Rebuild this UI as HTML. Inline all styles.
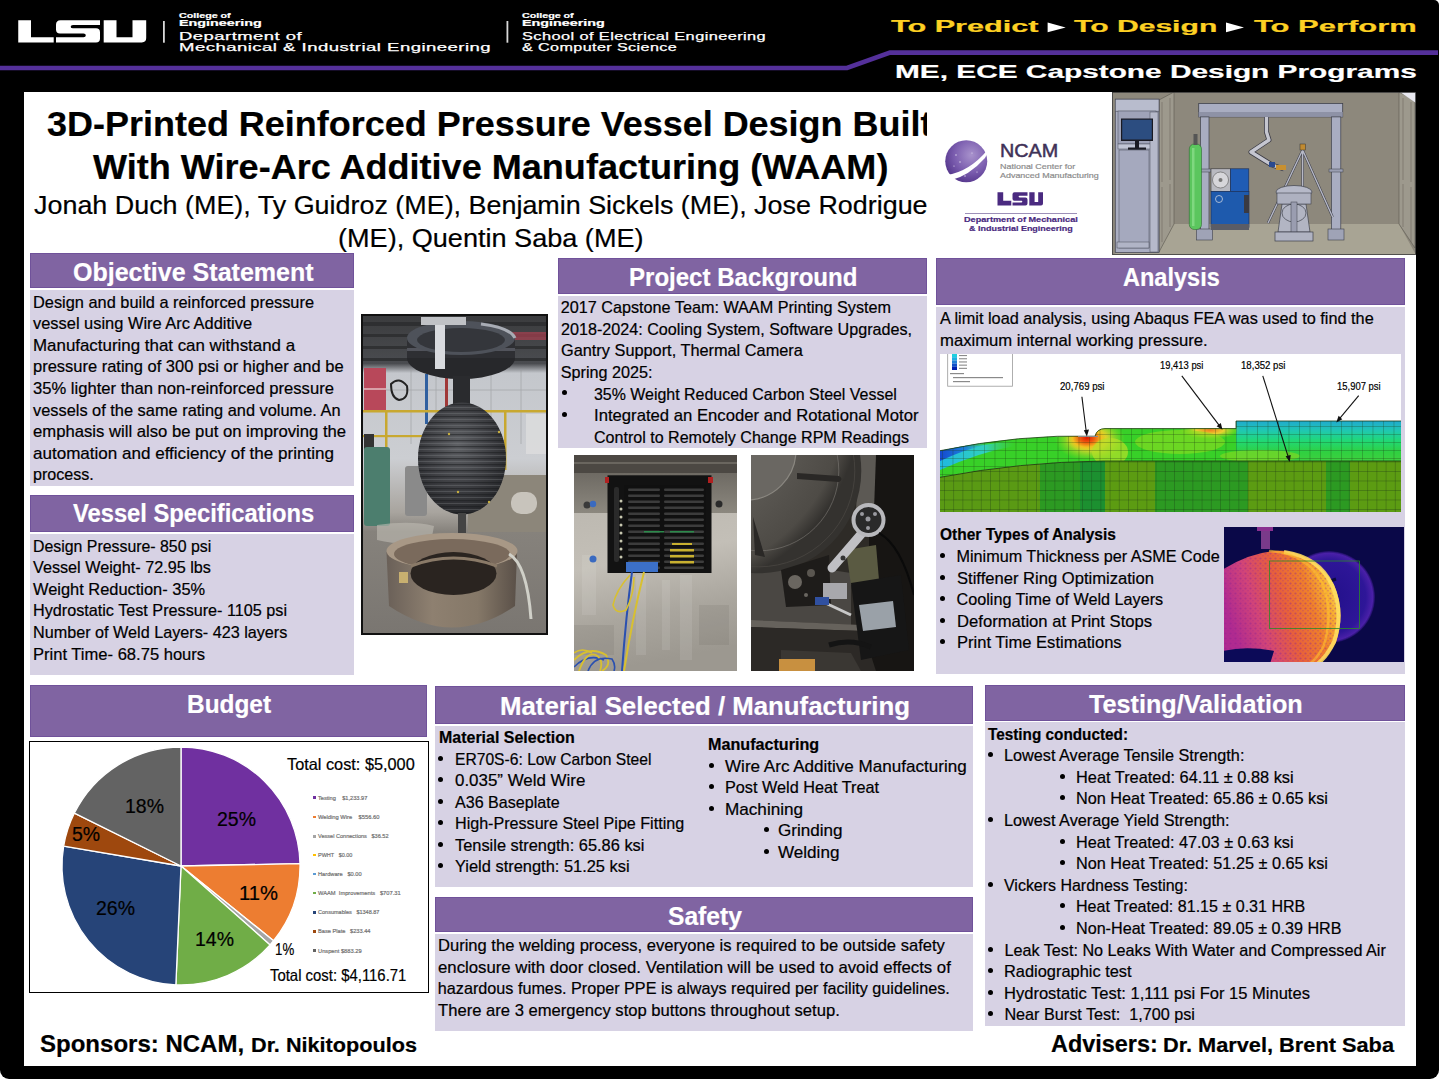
<!DOCTYPE html>
<html><head><meta charset="utf-8">
<style>
*{box-sizing:border-box;margin:0;padding:0}
html,body{width:1440px;height:1080px;overflow:hidden;background:#fff}
body{position:relative;font-family:"Liberation Sans",sans-serif;color:#000}
.a{position:absolute}
.frame{left:0;top:0;width:1439px;height:1079px;background:#000;border-radius:0 5px 9px 9px}
.white{left:24px;top:92px;width:1392px;height:974px;background:#fff}
.hd{position:absolute;background:#8064a2;border:1px solid #70529a}
.bd{position:absolute;background:#d7d2e4}
.t{position:absolute;white-space:nowrap;transform-origin:0 0;-webkit-text-stroke:0.2px currentColor}
.w{color:#fff}
svg{position:absolute;overflow:hidden}
</style></head>
<body>
<div class="a frame"></div>
<div class="a white"></div>

<svg style="left:0;top:0" width="1440" height="92">
<polyline points="0,68 847,68 890,52.6 1438,52.6" fill="none" stroke="#54309a" stroke-width="4.6" stroke-linejoin="miter"/>
</svg>
<svg style="left:0;top:0" width="1440" height="92">
<path fill="#fff" d="M18.25,20.25H31V37.2H53.7V42.4H18.25Z"/>
<path fill="#fff" d="M60.5,20.25H100V25H73Q70.7,25 70.7,26.65Q70.7,28.3 73,28.3H96Q100,28.3 100,32.3V38.4Q100,42.4 96,42.4H56V37.2H83.5Q85.8,37.2 85.8,35.35Q85.8,33.5 83.5,33.5H60Q56,33.5 56,29.5V24.75Q56,20.25 60.5,20.25Z"/>
<path fill="#fff" d="M103.7,20.25H116.5V37.2H132.5V20.25H146.2V38Q146.2,42.4 141.8,42.4H103.7Z"/>
<rect x="163" y="21" width="1.8" height="21.7" fill="#d8d8d8"/>
<rect x="506.5" y="21" width="1.8" height="21.7" fill="#d8d8d8"/>
<path fill="#fff" d="M1047.6,22.6L1065.7,27.45L1047.6,32.3Z"/>
<path fill="#fff" d="M1226,22.6L1244,27.45L1226,32.3Z"/>
</svg>


<!-- section boxes -->
<div class="hd" style="left:30px;top:253px;width:324px;height:35px"></div>
<div class="bd" style="left:30px;top:290px;width:324px;height:196px"></div>
<div class="hd" style="left:30px;top:495px;width:324px;height:37px"></div>
<div class="bd" style="left:30px;top:534px;width:324px;height:141px"></div>

<div class="hd" style="left:558px;top:258px;width:369px;height:36px"></div>
<div class="bd" style="left:558px;top:295.5px;width:369px;height:152.5px"></div>

<div class="hd" style="left:936px;top:258px;width:469px;height:47px"></div>
<div class="bd" style="left:936px;top:307px;width:469px;height:366.5px"></div>

<div class="hd" style="left:30px;top:685px;width:397px;height:52px"></div>
<div class="a" style="left:29px;top:741px;width:400px;height:252px;border:1.5px solid #000;background:#fff"></div>

<div class="hd" style="left:435px;top:686px;width:538px;height:38px"></div>
<div class="bd" style="left:435px;top:725.5px;width:538px;height:161.5px"></div>
<div class="hd" style="left:435px;top:897px;width:538px;height:35px"></div>
<div class="bd" style="left:435px;top:933.5px;width:538px;height:97.5px"></div>

<div class="hd" style="left:985px;top:685px;width:420px;height:35.5px"></div>
<div class="bd" style="left:985px;top:722px;width:420px;height:303.5px"></div>

<svg style="left:361px;top:314px" width="187" height="321" viewBox="0 0 187 321">
<defs>
<linearGradient id="vbg" x1="0" y1="0" x2="0" y2="1">
<stop offset="0" stop-color="#3b3c3e"/><stop offset="0.15" stop-color="#4a4c50"/><stop offset="0.18" stop-color="#c4c7cc"/><stop offset="0.45" stop-color="#ccced2"/><stop offset="0.62" stop-color="#a8a49e"/><stop offset="0.68" stop-color="#86827c"/><stop offset="1" stop-color="#7a7671"/>
</linearGradient>
<radialGradient id="vves" cx="0.45" cy="0.38" r="0.65"><stop offset="0" stop-color="#5e6064"/><stop offset="0.6" stop-color="#3c3d41"/><stop offset="1" stop-color="#252629"/></radialGradient>
<pattern id="vrid" width="10" height="6" patternUnits="userSpaceOnUse"><rect width="10" height="1.3" fill="#18191c" opacity="0.5"/><rect y="3" width="10" height="1" fill="#8a8c90" opacity="0.3"/></pattern>
<linearGradient id="vring" x1="0" y1="0" x2="1" y2="0"><stop offset="0" stop-color="#6a6058"/><stop offset="0.35" stop-color="#8e8070"/><stop offset="0.7" stop-color="#857868"/><stop offset="1" stop-color="#5a5048"/></linearGradient>
</defs>
<rect width="187" height="321" fill="#111"/>
<rect x="2" y="2" width="183" height="317" fill="url(#vbg)"/>
<g fill="#2b2c2e" opacity="0.8"><rect x="2" y="8" width="183" height="4"/><rect x="2" y="20" width="183" height="3"/><rect x="2" y="32" width="183" height="3"/><rect x="2" y="44" width="183" height="3"/></g>
<rect x="150" y="18" width="35" height="8" fill="#a84050" opacity="0.7"/>
<rect x="3" y="54" width="22" height="42" fill="#b8485a"/>
<rect x="3" y="74" width="22" height="2" fill="#d8a0a8"/>
<g stroke="#9a9ca0" stroke-width="0.8" opacity="0.7"><path d="M25,76 H185 M50,55 V130 M75,55 V130 M130,55 V130 M160,55 V130"/></g>
<rect x="64" y="60" width="3" height="50" fill="#3060a0"/>
<rect x="84" y="58" width="3" height="40" fill="#a03838"/>
<path d="M30,70 Q38,62 46,72 Q48,85 38,86 Q30,84 30,70Z" fill="none" stroke="#222" stroke-width="2"/>
<rect x="2" y="96" width="183" height="2.5" fill="#c8a830"/>
<rect x="2" y="121" width="120" height="2.2" fill="#c8a830"/>
<rect x="24" y="96" width="2.5" height="60" fill="#c8a830"/>
<rect x="143" y="96" width="2.5" height="60" fill="#c8a830"/>
<rect x="3" y="120" width="10" height="16" fill="#333"/>
<rect x="3" y="133" width="26" height="79" rx="3" fill="#4c7e6e"/>
<rect x="44" y="152" width="22" height="50" rx="3" fill="#8a8a8a"/>
<rect x="107" y="161" width="78" height="57" fill="#8c867a"/>
<rect x="150" y="178" width="26" height="22" rx="10" fill="#c8c4bc"/>
<rect x="165" y="100" width="20" height="40" fill="#e0e0e0" opacity="0.7"/>
<path d="M16,211 Q50,206 73,212 L70,228 Q40,232 16,226Z" fill="#c0bcb4" opacity="0.6"/>
<ellipse cx="100" cy="44" rx="54" ry="21" fill="#27282b"/>
<rect x="46" y="24" width="108" height="20" fill="#2e2f33"/>
<rect x="46" y="34" width="108" height="3" fill="#6a6e78" opacity="0.6"/>
<ellipse cx="100" cy="24" rx="54" ry="17" fill="#4e525a"/>
<ellipse cx="100" cy="26" rx="44" ry="12" fill="#34363b"/>
<path d="M120,10 Q150,14 154,24" stroke="#a8acb4" stroke-width="3" fill="none"/>
<rect x="74" y="3" width="10" height="52" fill="#d8dade"/>
<rect x="60" y="3" width="45" height="8" fill="#c0c2c6"/>
<rect x="92" y="62" width="17" height="32" fill="#2a2b2e"/>
<ellipse cx="101" cy="144.5" rx="44" ry="56" fill="url(#vves)"/>
<ellipse cx="101" cy="144.5" rx="44" ry="56" fill="url(#vrid)"/>
<g fill="#c8b040"><circle cx="88" cy="120" r="1.2"/><circle cx="138" cy="118" r="1.2"/><circle cx="97" cy="178" r="1.2"/><circle cx="128" cy="188" r="1.2"/></g>
<rect x="97" y="199" width="8" height="20" fill="#444"/>
<path d="M25.5,238 L28,292 Q92,335 154,292 L156,238Z" fill="url(#vring)"/>
<ellipse cx="91" cy="237" rx="65.5" ry="18" fill="#a89886"/>
<ellipse cx="91" cy="240" rx="58" ry="15" fill="#7a6a5c"/>
<ellipse cx="92.5" cy="259.5" rx="43" ry="21.5" fill="#2a2420"/>
<path d="M50,252 Q92,236 136,252" stroke="#8a7a68" stroke-width="3" fill="none"/>
<rect x="38" y="258" width="9" height="11" fill="#c8b070"/>
<path d="M148,240 Q166,250 170,305" stroke="#d0d0c8" stroke-width="3" fill="none"/>
</svg>

<svg style="left:574px;top:455px" width="163" height="216" viewBox="0 0 163 216">
<defs>
<linearGradient id="p1a" x1="0" y1="0" x2="0" y2="1"><stop offset="0" stop-color="#6e6a63"/><stop offset="1" stop-color="#8c887f"/></linearGradient>
<linearGradient id="p1b" x1="0" y1="0" x2="0.2" y2="1"><stop offset="0" stop-color="#bdb9b1"/><stop offset="0.35" stop-color="#c3bfb7"/><stop offset="0.7" stop-color="#aaa69e"/><stop offset="1" stop-color="#9c9890"/></linearGradient>
<pattern id="p1s" width="163" height="6" patternUnits="userSpaceOnUse" y="2"><rect x="0" y="0" width="163" height="6" fill="#101010"/><rect x="54" y="1.5" width="32" height="2.6" rx="1.3" fill="#3c3c3c"/><rect x="90" y="1.5" width="40" height="2.6" rx="1.3" fill="#3c3c3c"/></pattern>
</defs>
<rect width="163" height="18" fill="#4c4843"/>
<rect y="7" width="163" height="2" fill="#6a665f"/>
<rect y="18" width="163" height="40" fill="url(#p1a)"/>
<rect y="58" width="163" height="158" fill="url(#p1b)"/>
<g fill="#fff" opacity="0.09"><rect x="62" y="120" width="10" height="80"/><rect x="88" y="125" width="8" height="70"/><rect x="106" y="120" width="12" height="85"/><rect x="8" y="100" width="14" height="60"/></g>
<g fill="#5a5650" opacity="0.12"><rect x="125" y="150" width="30" height="40"/><rect x="0" y="170" width="40" height="30"/></g>
<circle cx="13" cy="50" r="3.5" fill="#3a3a3a"/><circle cx="19" cy="49" r="3.2" fill="#3a6ac0"/>
<circle cx="19" cy="104" r="3.5" fill="#3a6ac0"/>
<circle cx="145" cy="49" r="3.5" fill="#2a2a2a"/>
<rect x="33.5" y="20.3" width="104" height="97.7" fill="#121212"/>
<rect x="31" y="22" width="4" height="6" fill="#b02020"/><rect x="134" y="22" width="5" height="6" fill="#b02020"/>
<rect x="50" y="30" width="82" height="84" fill="url(#p1s)"/>
<rect x="40" y="32" width="5" height="75" rx="2" fill="#2a2a2a"/>
<g fill="#c8c8b0"><circle cx="47" cy="46" r="1.5"/><circle cx="47" cy="54" r="1.5"/><circle cx="47" cy="62" r="1.5"/><circle cx="47" cy="70" r="1.5"/><circle cx="47" cy="78" r="1.5"/><circle cx="47" cy="86" r="1.5"/><circle cx="47" cy="94" r="1.5"/><circle cx="47" cy="102" r="1.5"/></g>
<rect x="96" y="94" width="24" height="2.5" fill="#c8b030"/><rect x="96" y="100" width="24" height="2.5" fill="#c8b030"/><rect x="96" y="106" width="24" height="2.5" fill="#c8b030"/><rect x="98" y="88" width="20" height="2" fill="#c8b030"/>
<rect x="70" y="76" width="20" height="1.5" fill="#2a8a4a"/><rect x="96" y="76" width="24" height="1.5" fill="#2a8a4a"/>
<rect x="52" y="107" width="32" height="10" fill="#3c70c8"/>
<path d="M58,117 Q52,160 48,216" stroke="#2a50b0" stroke-width="2" fill="none"/>
<path d="M70,117 Q58,165 50,216" stroke="#d8c030" stroke-width="2" fill="none"/>
<path d="M56,120 Q42,135 39,150 Q42,160 52,155 Q60,140 60,122" stroke="#d8c030" stroke-width="1.6" fill="none"/>
<path d="M0,205 Q15,190 32,200 Q38,210 28,216" stroke="#d8c030" stroke-width="1.8" fill="none"/>
<path d="M0,212 Q14,198 30,205" stroke="#2a50b0" stroke-width="1.6" fill="none"/>
<path d="M5,216 Q12,196 22,200 Q30,205 26,216" stroke="#d8c030" stroke-width="1.8" fill="none"/>
<path d="M14,216 Q20,200 38,204 Q42,210 40,216" stroke="#2a50b0" stroke-width="1.6" fill="none"/>
<path d="M0,198 Q8,192 18,198" stroke="#d8c030" stroke-width="1.5" fill="none"/>
</svg>

<svg style="left:751.4px;top:455px" width="163" height="216" viewBox="0 0 163 216">
<defs>
<radialGradient id="p2d" cx="0.05" cy="0.15" r="0.95"><stop offset="0" stop-color="#66635e"/><stop offset="0.6" stop-color="#5e5b56"/><stop offset="0.92" stop-color="#4e4b46"/><stop offset="1" stop-color="#34322f"/></radialGradient>
</defs>
<rect width="163" height="216" fill="#2e2b27"/>
<rect x="118" y="0" width="45" height="216" fill="#171513"/>
<path d="M108,0 L125,0 L123,55 L104,75Z" fill="#5c5954"/>
<path d="M0,118 L60,112 L100,118 L100,170 L0,165Z" fill="#4a4743"/>
<path d="M0,165 L110,170 L112,176 L0,172Z" fill="#66625c"/>
<path d="M0,172 L112,176 L125,216 L0,216Z" fill="#2c2926"/>
<path d="M30,195 L100,198 L110,216 L30,216Z" fill="#3a3733"/>
<rect x="28" y="204" width="36" height="12" fill="#c89040"/>
<circle cx="7.8" cy="15.8" r="102.5" fill="url(#p2d)"/>
<circle cx="-5" cy="-5" r="50" fill="#6a6762" stroke="#8a8780" stroke-width="1.2"/>
<circle cx="7.8" cy="15.8" r="80" fill="none" stroke="#7e7b75" stroke-width="0.6"/>
<circle cx="7.8" cy="15.8" r="96" fill="none" stroke="#45423e" stroke-width="1"/>
<path d="M46,18 L88,21 Q93,24 88,27 L46,24Z" fill="#2a2826"/>
<path d="M2,62 L14,102 L4,100Z" fill="#2a2826"/>
<path d="M30,115 L78,100 L80,150 L35,152Z" fill="#1e1c1a"/>
<circle cx="44" cy="127" r="7" fill="#6a6660"/><circle cx="60" cy="118" r="4" fill="#5a5650"/><circle cx="55" cy="140" r="2" fill="#6a6660"/>
<path d="M95,95 L125,90 L128,125 L100,130Z" fill="#5a5a42"/>
<path d="M112,77 L81,113" stroke="#c0c0c4" stroke-width="9" stroke-linecap="round"/>
<circle cx="92" cy="103" r="2.5" fill="#333"/>
<circle cx="117.5" cy="65" r="15" fill="#2a2a2a" stroke="#b8b8bc" stroke-width="4"/>
<g fill="#9a9aa0"><circle cx="111" cy="59" r="2"/><circle cx="124" cy="59" r="2"/><circle cx="117" cy="73" r="2"/><circle cx="117" cy="64" r="2.5"/></g>
<path d="M128,78 Q150,90 163,140" stroke="#0a0a0a" stroke-width="2" fill="none"/>
<rect x="72" y="128" width="24" height="16" fill="#a8a8ac"/>
<path d="M68,145 L100,160" stroke="#c8c8c8" stroke-width="3"/>
<rect x="64" y="142" width="14" height="8" fill="#3050a0"/>
<path d="M100,128 L150,120 L158,195 L110,205Z" fill="#161616"/>
<path d="M108,150 L142,146 L145,172 L112,176Z" fill="#a8b0b8" opacity="0.9"/>
<path d="M78,190 Q100,183 120,192" stroke="#141414" stroke-width="5" fill="none"/>
</svg>

<svg style="left:940px;top:354px" width="461" height="158" viewBox="0 0 461 158">
<defs>
<clipPath id="fup"><path d="M0,96.7 Q80,80 155,82.2 Q157,74.6 165,74.6 L296,74.6 L296,67 L461,67 L461,108 L163,107 Q80,108 0,123.3 Z"/></clipPath>
<clipPath id="flo"><path d="M0,123.3 Q80,108 163,107 L461,107 L461,158 L0,158 Z"/></clipPath>
<pattern id="g1" width="10.5" height="8" patternUnits="userSpaceOnUse" x="2" y="0"><path d="M0,0V8M0,0H10.5" stroke="#1a3a10" stroke-width="0.55" fill="none"/></pattern>
<pattern id="g2" width="9.2" height="9.5" patternUnits="userSpaceOnUse" x="4" y="3"><path d="M0,0V9.5M0,0H9.2" stroke="#163012" stroke-width="0.55" fill="none"/></pattern>
<radialGradient id="hot" cx="0.5" cy="0.5" r="0.5"><stop offset="0" stop-color="#e01800"/><stop offset="0.35" stop-color="#f06010"/><stop offset="0.65" stop-color="#f0c020"/><stop offset="1" stop-color="#b8e020" stop-opacity="0"/></radialGradient>
<radialGradient id="warm" cx="0.5" cy="0.5" r="0.5"><stop offset="0" stop-color="#f08020"/><stop offset="0.45" stop-color="#e8d030"/><stop offset="1" stop-color="#a0e020" stop-opacity="0"/></radialGradient>
<linearGradient id="blu" x1="0" y1="0" x2="1" y2="0.3"><stop offset="0" stop-color="#1040d0"/><stop offset="0.12" stop-color="#20a0e0"/><stop offset="0.22" stop-color="#30d0c0"/><stop offset="0.35" stop-color="#40d060" stop-opacity="0"/></linearGradient>
<linearGradient id="teal" x1="0" y1="0" x2="0" y2="1"><stop offset="0" stop-color="#1a70d0"/><stop offset="0.14" stop-color="#20a8d0"/><stop offset="0.35" stop-color="#20c8b0"/><stop offset="0.55" stop-color="#20d878"/><stop offset="0.8" stop-color="#30d040"/><stop offset="1" stop-color="#40d040"/></linearGradient>
</defs>
<rect width="461" height="158" fill="#fff"/>
<g clip-path="url(#fup)">
<rect width="461" height="158" fill="#38d028"/>
<linearGradient id="bl2" x1="0" y1="0" x2="1" y2="0"><stop offset="0" stop-color="#1448d0"/><stop offset="0.5" stop-color="#1c80d8"/><stop offset="1" stop-color="#30c0d0" stop-opacity="0"/></linearGradient>
<linearGradient id="cy2" x1="0" y1="0" x2="1" y2="0"><stop offset="0" stop-color="#20b8e0"/><stop offset="0.6" stop-color="#30d0c0"/><stop offset="1" stop-color="#40d060" stop-opacity="0"/></linearGradient>
<path d="M0,100 Q40,90 75,87 L75,92 Q40,98 0,116 Z" fill="url(#cy2)"/>
<path d="M0,96 Q25,90 50,87 L50,90 Q25,95 0,107 Z" fill="url(#bl2)"/>
<rect x="296" y="60" width="165" height="48" fill="url(#teal)"/>
<ellipse cx="150" cy="85" rx="35" ry="22" fill="url(#warm)"/>
<ellipse cx="147" cy="84" rx="22" ry="14" fill="url(#hot)"/>
<ellipse cx="170" cy="98" rx="18" ry="14" fill="#b8e028" opacity="0.7"/>
<ellipse cx="270" cy="76" rx="30" ry="9" fill="url(#warm)"/>
<ellipse cx="240" cy="88" rx="45" ry="12" fill="#90dc20" opacity="0.6"/>
<ellipse cx="320" cy="102" rx="40" ry="6" fill="#8ad820" opacity="0.6"/>
<rect width="461" height="158" fill="url(#g1)"/>
</g>
<g clip-path="url(#flo)">
<rect width="461" height="158" fill="#3e9a22"/>
<rect x="0" y="100" width="100" height="60" fill="#5a9a14"/>
<rect x="100" y="100" width="40" height="60" fill="#2c9a22"/>
<rect x="140" y="100" width="25" height="60" fill="#1c9030"/>
<rect x="165" y="100" width="50" height="60" fill="#5c9c12"/>
<rect x="215" y="100" width="93" height="60" fill="#2c9a22"/>
<rect x="308" y="100" width="78" height="60" fill="#5c9c12"/>
<rect x="386" y="100" width="24" height="60" fill="#2c9a22"/>
<rect x="410" y="100" width="51" height="60" fill="#5c9c12"/>
<rect width="461" height="158" fill="url(#g2)"/>
</g>
<path d="M0,96.7 Q80,80 155,82.2 Q157,74.6 165,74.6 L296,74.6 L296,67 L461,67" fill="none" stroke="#1a3a10" stroke-width="0.8"/>
<path d="M0,123.3 Q80,108 163,107 L461,107" fill="none" stroke="#1a3a10" stroke-width="0.8"/>
<rect x="7.7" y="-1" width="64.7" height="33.2" fill="#fff" stroke="#9a9a9a" stroke-width="0.8"/>
<rect x="12" y="0" width="5" height="3.2" fill="#20d0e0"/><rect x="12" y="3.2" width="5" height="3.2" fill="#20b0e0"/><rect x="12" y="6.4" width="5" height="3.2" fill="#2080d8"/><rect x="12" y="9.6" width="5" height="3.2" fill="#1050c8"/><rect x="12" y="12.8" width="5" height="3.2" fill="#0020b0"/>
<g fill="#8a8a8a"><rect x="19" y="1" width="8" height="1.1"/><rect x="19" y="4.2" width="8" height="1.1"/><rect x="19" y="7.4" width="8" height="1.1"/><rect x="19" y="10.6" width="8" height="1.1"/><rect x="19" y="13.8" width="8" height="1.1"/>
<rect x="10" y="19" width="14" height="1.2"/><rect x="13" y="23" width="50" height="1.2"/><rect x="13" y="27" width="17" height="1.2"/><rect x="138" y="82" width="20" height="1"/></g>
<g stroke="#111" stroke-width="1.1" fill="none">
<path d="M141.9,42.7L146.5,79.8"/>
<path d="M241.8,21.9L280.9,73.6"/>
<path d="M322.8,21.9L349,105.3"/>
<path d="M418.7,41.6L398.3,66.1"/>
</g>
<g fill="#111">
<path d="M146.9,82.5L143.8,76.2L149,75.6Z"/>
<path d="M282.5,75.8L276.6,72.2L280.8,69.0Z"/>
<path d="M349.8,108L345.6,102.3L350.7,100.9Z"/>
<path d="M396.3,68.4L398.6,61.8L402.3,65.3Z"/>
</g>
</svg>

<svg style="left:1223.5px;top:527px" width="180.5" height="135" viewBox="0 0 180.5 135">
<defs>
<radialGradient id="thb" cx="0.5" cy="0.5" r="0.5"><stop offset="0" stop-color="#22108a"/><stop offset="0.8" stop-color="#2e1698"/><stop offset="0.95" stop-color="#4a20a8"/><stop offset="1" stop-color="#1a0c60"/></radialGradient>
<linearGradient id="tho" x1="0" y1="0.3" x2="1" y2="0"><stop offset="0" stop-color="#b02a90"/><stop offset="0.22" stop-color="#d24478"/><stop offset="0.45" stop-color="#e8603a"/><stop offset="0.66" stop-color="#f0802a"/><stop offset="0.8" stop-color="#f8b030"/><stop offset="0.9" stop-color="#ffe060"/><stop offset="1" stop-color="#f08020"/></linearGradient>
<pattern id="thp" width="5" height="5" patternUnits="userSpaceOnUse"><circle cx="1.5" cy="1.5" r="1.1" fill="#8a2090" opacity="0.4"/><circle cx="4" cy="3.8" r="0.8" fill="#9a2890" opacity="0.35"/></pattern>
<clipPath id="thc"><rect width="181" height="135"/></clipPath>
</defs>
<rect width="181" height="135" fill="#0a0848"/>
<circle cx="105" cy="70" r="46" fill="url(#thb)"/>
<path d="M90,60 L112,52" stroke="#0c0a40" stroke-width="3"/>
<g clip-path="url(#thc)">
<path d="M-5,45 Q30,22 62,24 Q95,30 110,58 Q122,85 112,115 Q100,138 85,140 L-5,140 Z" fill="url(#tho)"/>
<path d="M-5,45 Q30,22 62,24 Q95,30 110,58 Q122,85 112,115 Q100,138 85,140 L-5,140 Z" fill="url(#thp)"/>
<path d="M60,25 Q95,30 108,58 Q120,86 110,115 Q100,135 88,140" fill="none" stroke="#ffe060" stroke-width="4" opacity="0.85"/>
<path d="M45,24 Q82,26 98,56 Q110,84 100,118 Q92,135 80,140" fill="none" stroke="#ffc030" stroke-width="2.5" opacity="0.6"/>
<path d="M-5,125 Q20,118 50,124 L45,140 L-5,140Z" fill="#0c0a58"/>
</g>
<rect x="37" y="0" width="9" height="22" fill="#7a3a8a"/><rect x="33" y="0" width="16" height="4" fill="#8a3090"/>
<rect x="45.5" y="34" width="90" height="67.5" fill="none" stroke="#2a8a2a" stroke-width="0.8"/>
</svg>

<svg style="left:0;top:0" width="440" height="1000">
<path d="M181,866L181.00,747.00A119,119 0 0 1 299.98,863.60Z" fill="#7030a0" stroke="#fff" stroke-width="1.3" stroke-linejoin="round"/>
<path d="M181,866L299.98,863.60A119,119 0 0 1 273.58,940.76Z" fill="#ed7d31" stroke="#fff" stroke-width="1.3" stroke-linejoin="round"/>
<path d="M181,866L273.58,940.76A119,119 0 0 1 270.06,944.93Z" fill="#a5a5a5" stroke="#fff" stroke-width="1.3" stroke-linejoin="round"/>
<path d="M181,866L270.06,944.93A119,119 0 0 1 175.86,984.89Z" fill="#70ad47" stroke="#fff" stroke-width="1.3" stroke-linejoin="round"/>
<path d="M181,866L175.86,984.89A119,119 0 0 1 63.66,846.16Z" fill="#264478" stroke="#fff" stroke-width="1.3" stroke-linejoin="round"/>
<path d="M181,866L63.66,846.16A119,119 0 0 1 74.41,813.08Z" fill="#9e480e" stroke="#fff" stroke-width="1.3" stroke-linejoin="round"/>
<path d="M181,866L74.41,813.08A119,119 0 0 1 181.00,747.00Z" fill="#636363" stroke="#fff" stroke-width="1.3" stroke-linejoin="round"/>
</svg>
<div class="a" style="left:313.4px;top:796.4px;width:2.8px;height:2.8px;background:#7030a0"></div>
<div class="a" style="left:313.4px;top:815.6px;width:2.8px;height:2.8px;background:#ed7d31"></div>
<div class="a" style="left:313.4px;top:834.9px;width:2.8px;height:2.8px;background:#a5a5a5"></div>
<div class="a" style="left:313.4px;top:853.7px;width:2.8px;height:2.8px;background:#ffc000"></div>
<div class="a" style="left:313.4px;top:872.7px;width:2.8px;height:2.8px;background:#5b9bd5"></div>
<div class="a" style="left:313.4px;top:891.7px;width:2.8px;height:2.8px;background:#70ad47"></div>
<div class="a" style="left:313.4px;top:910.8px;width:2.8px;height:2.8px;background:#264478"></div>
<div class="a" style="left:313.4px;top:930.0px;width:2.8px;height:2.8px;background:#9e480e"></div>
<div class="a" style="left:313.4px;top:949.3px;width:2.8px;height:2.8px;background:#636363"></div>

<div class="t" id="t0" style="left:179.00px;top:13.24px;font-size:6.8px;line-height:6.8px;font-weight:bold;color:#fff;transform:scaleX(1.5728);">College of</div>
<div class="t" id="t1" style="left:179.00px;top:20.36px;font-size:8.2px;line-height:8.2px;font-weight:bold;color:#fff;transform:scaleX(1.7505);">Engineering</div>
<div class="t" id="t2" style="left:179.00px;top:31.17px;font-size:11.5px;line-height:11.5px;color:#fff;transform:scaleX(1.6039);letter-spacing:0.3px;-webkit-text-stroke:0.25px #fff;">Department of</div>
<div class="t" id="t3" style="left:179.00px;top:41.77px;font-size:11.5px;line-height:11.5px;color:#fff;transform:scaleX(1.6093);letter-spacing:0.3px;-webkit-text-stroke:0.25px #fff;">Mechanical &amp; Industrial Engineering</div>
<div class="t" id="t4" style="left:522.00px;top:13.24px;font-size:6.8px;line-height:6.8px;font-weight:bold;color:#fff;transform:scaleX(1.5728);">College of</div>
<div class="t" id="t5" style="left:522.00px;top:20.36px;font-size:8.2px;line-height:8.2px;font-weight:bold;color:#fff;transform:scaleX(1.7505);">Engineering</div>
<div class="t" id="t6" style="left:522.00px;top:31.17px;font-size:11.5px;line-height:11.5px;color:#fff;transform:scaleX(1.4196);letter-spacing:0.3px;-webkit-text-stroke:0.25px #fff;">School of Electrical Engineering</div>
<div class="t" id="t7" style="left:522.00px;top:41.77px;font-size:11.5px;line-height:11.5px;color:#fff;transform:scaleX(1.3993);letter-spacing:0.3px;-webkit-text-stroke:0.25px #fff;">&amp; Computer Science</div>
<div class="t" id="t8" style="left:890.70px;top:19.28px;font-size:16.8px;line-height:16.8px;font-weight:bold;color:#fdd023;transform:scaleX(1.8250);">To Predict</div>
<div class="t" id="t9" style="left:1074.40px;top:19.28px;font-size:16.8px;line-height:16.8px;font-weight:bold;color:#fdd023;transform:scaleX(1.7938);">To Design</div>
<div class="t" id="t10" style="left:1254.00px;top:19.28px;font-size:16.8px;line-height:16.8px;font-weight:bold;color:#fdd023;transform:scaleX(1.8431);">To Perform</div>
<div class="t" id="t11" style="left:895.00px;top:64.23px;font-size:17.8px;line-height:17.8px;font-weight:bold;color:#fff;transform:scaleX(1.6764);">ME, ECE Capstone Design Programs</div>
<div class="t" id="t12" style="left:47.00px;top:106.12px;font-size:35px;line-height:35px;font-weight:bold;transform:scaleX(1.0276);">3D-Printed Reinforced Pressure Vessel Design Built</div>
<div class="t" id="t13" style="left:93.10px;top:149.47px;font-size:35px;line-height:35px;font-weight:bold;transform:scaleX(1.0304);">With Wire-Arc Additive Manufacturing (WAAM)</div>
<div class="t" id="t14" style="left:34.00px;top:193.21px;font-size:25.5px;line-height:25.5px;transform:scaleX(1.0550);">Jonah Duch (ME), Ty Guidroz (ME), Benjamin Sickels (ME), Jose Rodriguez</div>
<div class="t" id="t15" style="left:337.50px;top:226.11px;font-size:25.5px;line-height:25.5px;transform:scaleX(1.0621);">(ME), Quentin Saba (ME)</div>
<div class="t" id="t16" style="left:73.00px;top:260.46px;font-size:25.8px;line-height:25.8px;font-weight:bold;color:#fff;transform:scaleX(0.9700);">Objective Statement</div>
<div class="t" id="t17" style="left:73.00px;top:501.16px;font-size:25.8px;line-height:25.8px;font-weight:bold;color:#fff;transform:scaleX(0.9195);">Vessel Specifications</div>
<div class="t" id="t18" style="left:629.40px;top:264.86px;font-size:25.8px;line-height:25.8px;font-weight:bold;color:#fff;transform:scaleX(0.9317);">Project Background</div>
<div class="t" id="t19" style="left:1123.30px;top:264.66px;font-size:25.8px;line-height:25.8px;font-weight:bold;color:#fff;transform:scaleX(0.9119);">Analysis</div>
<div class="t" id="t20" style="left:186.50px;top:692.26px;font-size:25.8px;line-height:25.8px;font-weight:bold;color:#fff;transform:scaleX(0.9464);">Budget</div>
<div class="t" id="t21" style="left:500.00px;top:693.56px;font-size:25.8px;line-height:25.8px;font-weight:bold;color:#fff;">Material Selected / Manufacturing</div>
<div class="t" id="t22" style="left:668.00px;top:903.56px;font-size:25.8px;line-height:25.8px;font-weight:bold;color:#fff;transform:scaleX(0.9541);">Safety</div>
<div class="t" id="t23" style="left:1089.30px;top:691.66px;font-size:25.8px;line-height:25.8px;font-weight:bold;color:#fff;transform:scaleX(0.9765);">Testing/Validation</div>
<div class="t" id="t24" style="left:33.00px;top:293.69px;font-size:16.2px;line-height:16.2px;transform:scaleX(1.0106);">Design and build a reinforced pressure</div>
<div class="t" id="t25" style="left:33.00px;top:315.29px;font-size:16.2px;line-height:16.2px;transform:scaleX(1.0143);">vessel using Wire Arc Additive</div>
<div class="t" id="t26" style="left:33.00px;top:336.89px;font-size:16.2px;line-height:16.2px;transform:scaleX(1.0440);">Manufacturing that can withstand a</div>
<div class="t" id="t27" style="left:33.00px;top:358.49px;font-size:16.2px;line-height:16.2px;transform:scaleX(1.0182);">pressure rating of 300 psi or higher and be</div>
<div class="t" id="t28" style="left:33.00px;top:380.09px;font-size:16.2px;line-height:16.2px;transform:scaleX(1.0258);">35% lighter than non-reinforced pressure</div>
<div class="t" id="t29" style="left:33.00px;top:401.69px;font-size:16.2px;line-height:16.2px;transform:scaleX(1.0111);">vessels of the same rating and volume. An</div>
<div class="t" id="t30" style="left:33.00px;top:423.29px;font-size:16.2px;line-height:16.2px;transform:scaleX(1.0296);">emphasis will also be put on improving the</div>
<div class="t" id="t31" style="left:33.00px;top:444.89px;font-size:16.2px;line-height:16.2px;transform:scaleX(1.0526);">automation and efficiency of the printing</div>
<div class="t" id="t32" style="left:33.00px;top:466.49px;font-size:16.2px;line-height:16.2px;transform:scaleX(0.9940);">process.</div>
<div class="t" id="t33" style="left:33.00px;top:537.69px;font-size:16.2px;line-height:16.2px;transform:scaleX(0.9806);">Design Pressure- 850 psi</div>
<div class="t" id="t34" style="left:33.00px;top:559.29px;font-size:16.2px;line-height:16.2px;">Vessel Weight- 72.95 lbs</div>
<div class="t" id="t35" style="left:33.00px;top:580.89px;font-size:16.2px;line-height:16.2px;transform:scaleX(1.0139);">Weight Reduction- 35%</div>
<div class="t" id="t36" style="left:33.00px;top:602.49px;font-size:16.2px;line-height:16.2px;">Hydrostatic Test Pressure- 1105 psi</div>
<div class="t" id="t37" style="left:33.00px;top:624.09px;font-size:16.2px;line-height:16.2px;">Number of Weld Layers- 423 layers</div>
<div class="t" id="t38" style="left:33.00px;top:645.69px;font-size:16.2px;line-height:16.2px;transform:scaleX(1.0230);">Print Time- 68.75 hours</div>
<div class="t" id="t39" style="left:560.80px;top:299.39px;font-size:16.2px;line-height:16.2px;">2017 Capstone Team: WAAM Printing System</div>
<div class="t" id="t40" style="left:560.80px;top:320.92px;font-size:16.2px;line-height:16.2px;transform:scaleX(0.9977);">2018-2024: Cooling System, Software Upgrades,</div>
<div class="t" id="t41" style="left:560.80px;top:342.45px;font-size:16.2px;line-height:16.2px;transform:scaleX(1.0079);">Gantry Support, Thermal Camera</div>
<div class="t" id="t42" style="left:560.80px;top:363.98px;font-size:16.2px;line-height:16.2px;">Spring 2025:</div>
<div class="t" id="t43" style="left:594.10px;top:385.51px;font-size:16.2px;line-height:16.2px;transform:scaleX(0.9849);">35% Weight Reduced Carbon Steel Vessel</div>
<div class="t" id="t44" style="left:594.10px;top:407.04px;font-size:16.2px;line-height:16.2px;transform:scaleX(1.0303);">Integrated an Encoder and Rotational Motor</div>
<div class="t" id="t45" style="left:594.10px;top:428.57px;font-size:16.2px;line-height:16.2px;transform:scaleX(0.9918);">Control to Remotely Change RPM Readings</div>
<div class="t" id="t46" style="left:939.50px;top:310.49px;font-size:16.2px;line-height:16.2px;transform:scaleX(1.0063);">A limit load analysis, using Abaqus FEA was used to find the</div>
<div class="t" id="t47" style="left:939.50px;top:331.89px;font-size:16.2px;line-height:16.2px;transform:scaleX(1.0297);">maximum internal working pressure.</div>
<div class="t" id="t48" style="left:939.50px;top:526.39px;font-size:16.2px;line-height:16.2px;font-weight:bold;transform:scaleX(0.9581);">Other Types of Analysis</div>
<div class="t" id="t49" style="left:956.50px;top:547.99px;font-size:16.2px;line-height:16.2px;">Minimum Thickness per ASME Code</div>
<div class="t" id="t50" style="left:956.50px;top:569.59px;font-size:16.2px;line-height:16.2px;transform:scaleX(1.0243);">Stiffener Ring Optimization</div>
<div class="t" id="t51" style="left:956.50px;top:591.19px;font-size:16.2px;line-height:16.2px;">Cooling Time of Weld Layers</div>
<div class="t" id="t52" style="left:956.50px;top:612.79px;font-size:16.2px;line-height:16.2px;transform:scaleX(1.0278);">Deformation at Print Stops</div>
<div class="t" id="t53" style="left:956.50px;top:634.39px;font-size:16.2px;line-height:16.2px;transform:scaleX(1.0223);">Print Time Estimations</div>
<div class="t" id="t54" style="left:438.60px;top:729.29px;font-size:16.2px;line-height:16.2px;font-weight:bold;transform:scaleX(0.9867);">Material Selection</div>
<div class="t" id="t55" style="left:455.00px;top:750.79px;font-size:16.2px;line-height:16.2px;transform:scaleX(0.9659);">ER70S-6: Low Carbon Steel</div>
<div class="t" id="t56" style="left:455.00px;top:772.29px;font-size:16.2px;line-height:16.2px;transform:scaleX(1.0446);">0.035&#8221; Weld Wire</div>
<div class="t" id="t57" style="left:455.00px;top:793.79px;font-size:16.2px;line-height:16.2px;transform:scaleX(0.9934);">A36 Baseplate</div>
<div class="t" id="t58" style="left:455.00px;top:815.29px;font-size:16.2px;line-height:16.2px;transform:scaleX(0.9948);">High-Pressure Steel Pipe Fitting</div>
<div class="t" id="t59" style="left:455.00px;top:836.79px;font-size:16.2px;line-height:16.2px;transform:scaleX(1.0120);">Tensile strength: 65.86 ksi</div>
<div class="t" id="t60" style="left:455.00px;top:858.29px;font-size:16.2px;line-height:16.2px;transform:scaleX(1.0142);">Yield strength: 51.25 ksi</div>
<div class="t" id="t61" style="left:708.20px;top:736.29px;font-size:16.2px;line-height:16.2px;font-weight:bold;transform:scaleX(0.9973);">Manufacturing</div>
<div class="t" id="t62" style="left:724.50px;top:757.79px;font-size:16.2px;line-height:16.2px;transform:scaleX(1.0532);">Wire Arc Additive Manufacturing</div>
<div class="t" id="t63" style="left:724.50px;top:779.29px;font-size:16.2px;line-height:16.2px;transform:scaleX(1.0036);">Post Weld Heat Treat</div>
<div class="t" id="t64" style="left:724.50px;top:800.79px;font-size:16.2px;line-height:16.2px;transform:scaleX(1.0586);">Machining</div>
<div class="t" id="t65" style="left:778.20px;top:822.29px;font-size:16.2px;line-height:16.2px;transform:scaleX(1.0561);">Grinding</div>
<div class="t" id="t66" style="left:778.20px;top:843.79px;font-size:16.2px;line-height:16.2px;transform:scaleX(1.0553);">Welding</div>
<div class="t" id="t67" style="left:437.80px;top:937.39px;font-size:16.2px;line-height:16.2px;transform:scaleX(1.0222);">During the welding process, everyone is required to be outside safety</div>
<div class="t" id="t68" style="left:437.80px;top:958.92px;font-size:16.2px;line-height:16.2px;transform:scaleX(1.0349);">enclosure with door closed. Ventilation will be used to avoid effects of</div>
<div class="t" id="t69" style="left:437.80px;top:980.45px;font-size:16.2px;line-height:16.2px;">hazardous fumes. Proper PPE is always required per facility guidelines.</div>
<div class="t" id="t70" style="left:437.80px;top:1001.98px;font-size:16.2px;line-height:16.2px;transform:scaleX(1.0265);">There are 3 emergency stop buttons throughout setup.</div>
<div class="t" id="t71" style="left:988.00px;top:725.59px;font-size:16.2px;line-height:16.2px;font-weight:bold;transform:scaleX(0.9455);">Testing conducted:</div>
<div class="t" id="t72" style="left:1004.40px;top:747.19px;font-size:16.2px;line-height:16.2px;transform:scaleX(1.0031);">Lowest Average Tensile Strength:</div>
<div class="t" id="t73" style="left:1076.40px;top:768.79px;font-size:16.2px;line-height:16.2px;transform:scaleX(1.0095);">Heat Treated: 64.11 &#177; 0.88 ksi</div>
<div class="t" id="t74" style="left:1076.40px;top:790.39px;font-size:16.2px;line-height:16.2px;transform:scaleX(1.0039);">Non Heat Treated: 65.86 &#177; 0.65 ksi</div>
<div class="t" id="t75" style="left:1004.40px;top:811.99px;font-size:16.2px;line-height:16.2px;transform:scaleX(1.0042);">Lowest Average Yield Strength:</div>
<div class="t" id="t76" style="left:1076.40px;top:833.59px;font-size:16.2px;line-height:16.2px;transform:scaleX(1.0039);">Heat Treated: 47.03 &#177; 0.63 ksi</div>
<div class="t" id="t77" style="left:1076.40px;top:855.19px;font-size:16.2px;line-height:16.2px;transform:scaleX(1.0039);">Non Heat Treated: 51.25 &#177; 0.65 ksi</div>
<div class="t" id="t78" style="left:1004.40px;top:876.79px;font-size:16.2px;line-height:16.2px;transform:scaleX(0.9859);">Vickers Hardness Testing:</div>
<div class="t" id="t79" style="left:1076.40px;top:898.39px;font-size:16.2px;line-height:16.2px;transform:scaleX(0.9921);">Heat Treated: 81.15 &#177; 0.31 HRB</div>
<div class="t" id="t80" style="left:1076.40px;top:919.99px;font-size:16.2px;line-height:16.2px;transform:scaleX(0.9973);">Non-Heat Treated: 89.05 &#177; 0.39 HRB</div>
<div class="t" id="t81" style="left:1004.40px;top:941.59px;font-size:16.2px;line-height:16.2px;">Leak Test: No Leaks With Water and Compressed Air</div>
<div class="t" id="t82" style="left:1004.40px;top:963.19px;font-size:16.2px;line-height:16.2px;transform:scaleX(1.0130);">Radiographic test</div>
<div class="t" id="t83" style="left:1004.40px;top:984.79px;font-size:16.2px;line-height:16.2px;transform:scaleX(1.0211);">Hydrostatic Test: 1,111 psi For 15 Minutes</div>
<div class="t" id="t84" style="left:1004.40px;top:1006.39px;font-size:16.2px;line-height:16.2px;">Near Burst Test:&#160; 1,700 psi</div>
<div class="t" id="t85" style="left:40.00px;top:1032.13px;font-size:24.3px;line-height:24.3px;font-weight:bold;transform:scaleX(0.9884);">Sponsors: NCAM,</div>
<div class="t" id="t86" style="left:251.00px;top:1034.77px;font-size:20px;line-height:20px;font-weight:bold;transform:scaleX(1.0825);">Dr. Nikitopoulos</div>
<div class="t" id="t87" style="left:1050.70px;top:1032.13px;font-size:24.3px;line-height:24.3px;font-weight:bold;transform:scaleX(0.9637);">Advisers:</div>
<div class="t" id="t88" style="left:1163.30px;top:1034.77px;font-size:20px;line-height:20px;font-weight:bold;transform:scaleX(1.0880);">Dr. Marvel, Brent Saba</div>
<div class="t" id="t89" style="left:286.50px;top:756.13px;font-size:16.5px;line-height:16.5px;transform:scaleX(0.9877);">Total cost: $5,000</div>
<div class="t" id="t90" style="left:269.50px;top:966.83px;font-size:16.5px;line-height:16.5px;transform:scaleX(0.9027);">Total cost: $4,116.71</div>
<div class="t" id="t91" style="left:216.50px;top:810.22px;font-size:19.7px;line-height:19.7px;color:#000;transform:scaleX(0.9889);">25%</div>
<div class="t" id="t92" style="left:124.80px;top:797.32px;font-size:19.7px;line-height:19.7px;color:#000;transform:scaleX(0.9889);">18%</div>
<div class="t" id="t93" style="left:72.10px;top:825.32px;font-size:19.7px;line-height:19.7px;color:#000;transform:scaleX(0.9895);">5%</div>
<div class="t" id="t94" style="left:96.20px;top:899.02px;font-size:19.7px;line-height:19.7px;color:#000;transform:scaleX(0.9889);">26%</div>
<div class="t" id="t95" style="left:194.90px;top:930.02px;font-size:19.7px;line-height:19.7px;color:#000;transform:scaleX(0.9889);">14%</div>
<div class="t" id="t96" style="left:239.10px;top:883.92px;font-size:19.7px;line-height:19.7px;color:#000;transform:scaleX(1.0268);">11%</div>
<div class="t" id="t97" style="left:275.00px;top:941.96px;font-size:16px;line-height:16px;color:#000;transform:scaleX(0.8303);">1%</div>
<div class="t" id="t98" style="left:318.30px;top:794.75px;font-size:6.2px;line-height:6.2px;color:#707070;transform:scaleX(0.9131);">Testing&#160;&#160;&#160; $1,233.97</div>
<div class="t" id="t99" style="left:318.30px;top:813.95px;font-size:6.2px;line-height:6.2px;color:#707070;transform:scaleX(0.9317);">Welding Wire&#160;&#160;&#160; $556.60</div>
<div class="t" id="t100" style="left:318.30px;top:833.25px;font-size:6.2px;line-height:6.2px;color:#707070;transform:scaleX(0.8991);">Vessel Connections&#160;&#160; $36.52</div>
<div class="t" id="t101" style="left:318.30px;top:852.05px;font-size:6.2px;line-height:6.2px;color:#707070;transform:scaleX(0.8858);">PWHT&#160;&#160; $0.00</div>
<div class="t" id="t102" style="left:318.30px;top:871.05px;font-size:6.2px;line-height:6.2px;color:#707070;transform:scaleX(0.9189);">Hardware&#160;&#160; $0.00</div>
<div class="t" id="t103" style="left:318.30px;top:890.05px;font-size:6.2px;line-height:6.2px;color:#707070;transform:scaleX(0.9264);">WAAM&#160; Improvements&#160;&#160; $707.31</div>
<div class="t" id="t104" style="left:318.30px;top:909.15px;font-size:6.2px;line-height:6.2px;color:#707070;transform:scaleX(0.8928);">Consumables&#160;&#160; $1348.87</div>
<div class="t" id="t105" style="left:318.30px;top:928.35px;font-size:6.2px;line-height:6.2px;color:#707070;transform:scaleX(0.9141);">Base Plate&#160;&#160; $233.44</div>
<div class="t" id="t106" style="left:318.30px;top:947.65px;font-size:6.2px;line-height:6.2px;color:#707070;transform:scaleX(0.9253);">Unspent $883.29</div>
<div class="t" id="t107" style="left:1059.60px;top:380.82px;font-size:11.2px;line-height:11.2px;transform:scaleX(0.8621);">20,769 psi</div>
<div class="t" id="t108" style="left:1159.70px;top:360.32px;font-size:11.2px;line-height:11.2px;transform:scaleX(0.8408);">19,413 psi</div>
<div class="t" id="t109" style="left:1240.60px;top:360.32px;font-size:11.2px;line-height:11.2px;transform:scaleX(0.8602);">18,352 psi</div>
<div class="t" id="t110" style="left:1337.30px;top:380.72px;font-size:11.2px;line-height:11.2px;transform:scaleX(0.8447);">15,907 psi</div><div class="a" style="left:561.70px;top:390.42px;width:5px;height:5px;border-radius:50%;background:#000"></div><div class="a" style="left:561.70px;top:411.95px;width:5px;height:5px;border-radius:50%;background:#000"></div><div class="a" style="left:939.90px;top:552.90px;width:5px;height:5px;border-radius:50%;background:#000"></div><div class="a" style="left:939.90px;top:574.50px;width:5px;height:5px;border-radius:50%;background:#000"></div><div class="a" style="left:939.90px;top:596.10px;width:5px;height:5px;border-radius:50%;background:#000"></div><div class="a" style="left:939.90px;top:617.70px;width:5px;height:5px;border-radius:50%;background:#000"></div><div class="a" style="left:939.90px;top:639.30px;width:5px;height:5px;border-radius:50%;background:#000"></div><div class="a" style="left:437.90px;top:755.70px;width:5px;height:5px;border-radius:50%;background:#000"></div><div class="a" style="left:437.90px;top:777.20px;width:5px;height:5px;border-radius:50%;background:#000"></div><div class="a" style="left:437.90px;top:798.70px;width:5px;height:5px;border-radius:50%;background:#000"></div><div class="a" style="left:437.90px;top:820.20px;width:5px;height:5px;border-radius:50%;background:#000"></div><div class="a" style="left:437.90px;top:841.70px;width:5px;height:5px;border-radius:50%;background:#000"></div><div class="a" style="left:437.90px;top:863.20px;width:5px;height:5px;border-radius:50%;background:#000"></div><div class="a" style="left:709.00px;top:762.70px;width:5px;height:5px;border-radius:50%;background:#000"></div><div class="a" style="left:709.00px;top:784.20px;width:5px;height:5px;border-radius:50%;background:#000"></div><div class="a" style="left:709.00px;top:805.70px;width:5px;height:5px;border-radius:50%;background:#000"></div><div class="a" style="left:763.80px;top:827.20px;width:5px;height:5px;border-radius:50%;background:#000"></div><div class="a" style="left:763.80px;top:848.70px;width:5px;height:5px;border-radius:50%;background:#000"></div><div class="a" style="left:987.70px;top:752.10px;width:5px;height:5px;border-radius:50%;background:#000"></div><div class="a" style="left:1060.10px;top:773.70px;width:5px;height:5px;border-radius:50%;background:#000"></div><div class="a" style="left:1060.10px;top:795.30px;width:5px;height:5px;border-radius:50%;background:#000"></div><div class="a" style="left:987.70px;top:816.90px;width:5px;height:5px;border-radius:50%;background:#000"></div><div class="a" style="left:1060.10px;top:838.50px;width:5px;height:5px;border-radius:50%;background:#000"></div><div class="a" style="left:1060.10px;top:860.10px;width:5px;height:5px;border-radius:50%;background:#000"></div><div class="a" style="left:987.70px;top:881.70px;width:5px;height:5px;border-radius:50%;background:#000"></div><div class="a" style="left:1060.10px;top:903.30px;width:5px;height:5px;border-radius:50%;background:#000"></div><div class="a" style="left:1060.10px;top:924.90px;width:5px;height:5px;border-radius:50%;background:#000"></div><div class="a" style="left:987.70px;top:946.50px;width:5px;height:5px;border-radius:50%;background:#000"></div><div class="a" style="left:987.70px;top:968.10px;width:5px;height:5px;border-radius:50%;background:#000"></div><div class="a" style="left:987.70px;top:989.70px;width:5px;height:5px;border-radius:50%;background:#000"></div><div class="a" style="left:987.70px;top:1011.30px;width:5px;height:5px;border-radius:50%;background:#000"></div>
<div class="a" style="left:927px;top:92px;width:185px;height:163px;background:#fff"></div>
<svg style="left:927px;top:92px" width="185" height="163">
<defs>
<radialGradient id="glb" cx="0.62" cy="0.35" r="0.75">
<stop offset="0" stop-color="#a892cc"/><stop offset="0.55" stop-color="#7a5cae"/><stop offset="1" stop-color="#4e2f86"/>
</radialGradient>
</defs>
<circle cx="39.25" cy="69.25" r="21" fill="url(#glb)"/>
<path d="M19.5,83 Q42,80 60.5,58 Q60,63 58,66 Q42,84 23,88.5 Q20.5,86 19.5,83Z" fill="#fff"/>
<g fill="#e6dff2"><circle cx="29" cy="63" r="0.7"/><circle cx="33" cy="70" r="0.7"/><circle cx="27" cy="74" r="0.6"/><circle cx="45" cy="61" r="0.6"/><circle cx="38" cy="84" r="0.7"/><circle cx="50" cy="80" r="0.6"/><circle cx="44" cy="75" r="0.5"/></g>
<path d="M70.7,84.8" />
</svg>
<svg style="left:990px;top:188px" width="60" height="22">
<g fill="#4a2a80">
<path d="M7.5,4.25H13.2V12.8H21.3V17.6H7.5Z"/>
<path d="M24.5,4.25H37.5V7.8H29.5Q28.6,7.8 28.6,8.6Q28.6,9.4 29.5,9.4H35.5Q37.5,9.4 37.5,11.4V15.6Q37.5,17.6 35.5,17.6H22.5V14.4H31.6Q32.3,14.4 32.3,13.6Q32.3,12.8 31.6,12.8H24.3Q22.5,12.8 22.5,10.8V6.25Q22.5,4.25 24.5,4.25Z"/>
<path d="M39.3,4.25H44.6V14H48.2V4.25H53V15.6Q53,17.6 51,17.6H39.3Z"/>
</g>
</svg>
<div class="a" style="left:965px;top:212.5px;width:111.5px;height:1.2px;background:#9d90b8"></div>

<svg style="left:1112px;top:92px" width="304" height="163" viewBox="0 0 304 163">
<rect width="304" height="163" fill="#8d887c"/>
<path d="M62,132 L287,132 L304,163 L0,163Z" fill="#a8a494"/>
<path d="M47,8 L62,0 L62,132 L47,160Z" fill="#9d998d" stroke="#5a574f" stroke-width="0.6"/>
<path d="M50,10 L50,90 M58,6 L58,88 M50,95 L50,150 M58,92 L58,135" stroke="#6e6a60" stroke-width="0.6"/>
<path d="M287,0 L303,8 L303,156 L287,132Z" fill="#9d998d" stroke="#5a574f" stroke-width="0.6"/>
<path d="M291,6 L291,88 M299,10 L299,90 M291,92 L291,135 M299,95 L299,150" stroke="#6e6a60" stroke-width="0.6"/>
<path d="M288,0 L304,0 L304,11Z" fill="#e8e8f0"/>
<rect x="3.3" y="7.2" width="43.7" height="153.4" fill="#aaaec2" stroke="#4a4c58" stroke-width="0.8"/>
<rect x="3.3" y="7.2" width="43.7" height="12" fill="#b8bccd" stroke="#4a4c58" stroke-width="0.6"/>
<rect x="6" y="19" width="38" height="33" fill="#9fa3b8" stroke="#4a4c58" stroke-width="0.5"/>
<rect x="6" y="52" width="38" height="5" fill="#c0c4d4" stroke="#4a4c58" stroke-width="0.5"/>
<rect x="7" y="58" width="30" height="98" fill="#a5a9be" stroke="#4a4c58" stroke-width="0.5"/>
<rect x="38" y="20" width="8" height="140" fill="#b6b9ca" stroke="#4a4c58" stroke-width="0.5"/>
<rect x="9" y="26.5" width="32" height="22.5" fill="#1a1a22"/>
<rect x="10.2" y="27.7" width="29.6" height="19.8" fill="#2c4d80"/>
<rect x="23" y="49" width="4" height="7" fill="#1a1a22"/><rect x="16" y="55.5" width="18" height="2.2" fill="#1a1a22"/>
<rect x="5" y="150" width="32" height="6" fill="#b0b4c6" stroke="#4a4c58" stroke-width="0.5"/>
<rect x="86.7" y="11.4" width="144" height="13.5" fill="#a9adc1" stroke="#3e404a" stroke-width="0.8"/>
<rect x="86.7" y="20" width="144" height="4.9" fill="#8e92a6"/>
<rect x="88.4" y="24.9" width="8.6" height="118" fill="#a9adc1" stroke="#3e404a" stroke-width="0.7"/>
<rect x="219.4" y="24.9" width="9.4" height="118" fill="#a9adc1" stroke="#3e404a" stroke-width="0.7"/>
<rect x="86" y="77" width="13" height="3" fill="#9a9eb2" stroke="#3e404a" stroke-width="0.5"/>
<rect x="217" y="77" width="14" height="3" fill="#9a9eb2" stroke="#3e404a" stroke-width="0.5"/>
<rect x="84.5" y="137" width="16" height="11" fill="#9fa3b6" stroke="#3e404a" stroke-width="0.6"/>
<rect x="216" y="137" width="16" height="11" fill="#9fa3b6" stroke="#3e404a" stroke-width="0.6"/>
<rect x="77.3" y="52" width="12.2" height="85.5" rx="5" fill="#5bc65e" stroke="#2f6a32" stroke-width="0.6"/>
<rect x="80" y="56" width="2.5" height="78" fill="#8ee08e" opacity="0.7"/>
<rect x="81.5" y="42" width="4" height="11" fill="#555"/>
<rect x="99" y="76.8" width="19.5" height="22.5" fill="#b8b9c0" stroke="#333" stroke-width="0.6"/>
<circle cx="108.5" cy="88" r="8" fill="#d6d6da" stroke="#555" stroke-width="0.6"/>
<circle cx="108.5" cy="88" r="2" fill="#777"/>
<rect x="118.5" y="76.8" width="18.3" height="22.5" fill="#1f5cb5" stroke="#1a2a50" stroke-width="0.6"/>
<rect x="99" y="99.3" width="38" height="36" fill="#1e5aad" stroke="#1a2a50" stroke-width="0.6"/>
<rect x="132" y="103" width="5" height="18" fill="#3a3a42"/>
<circle cx="107" cy="107" r="3.5" fill="none" stroke="#c8d0e0" stroke-width="0.8"/>
<rect x="99" y="132" width="38" height="6" fill="#5a5c66"/>
<path d="M154.5,25 L154.5,40 L157,48 L139,60 L160,73 L172,77" fill="none" stroke="#3a3a44" stroke-width="5" stroke-linejoin="round"/>
<path d="M154.5,25 L154.5,40 L157,48 L139,60 L160,73 L172,77" fill="none" stroke="#c5c6d0" stroke-width="3.4" stroke-linejoin="round"/>
<rect x="157" y="70" width="6" height="5" fill="#2a4a90"/>
<rect x="164" y="73" width="10" height="5" fill="#c89030"/>
<g stroke="#3a3c48" stroke-width="2.4" fill="none"><path d="M190.6,58 L156,131 M190.6,58 L220.6,125 M190.6,58 L190.6,102"/></g>
<g stroke="#b6b8c6" stroke-width="1.4" fill="none"><path d="M190.6,58 L156,131 M190.6,58 L220.6,125 M190.6,58 L190.6,102"/></g>
<rect x="188" y="52" width="5.5" height="6" fill="#c08a30" stroke="#333" stroke-width="0.5"/>
<path d="M170,112 L194,112 L198,140 L166,140Z" fill="#b2b5c3" stroke="#3e404a" stroke-width="0.7"/>
<ellipse cx="182" cy="100" rx="18" ry="6.5" fill="#b6b9c8" stroke="#3e404a" stroke-width="0.7"/>
<rect x="165" y="101" width="34" height="11" fill="#aeb1c0" stroke="#3e404a" stroke-width="0.6"/>
<ellipse cx="182" cy="121" rx="12" ry="9" fill="none" stroke="#3e404a" stroke-width="0.7"/>
<rect x="179" y="110" width="6" height="30" fill="#9a9db0" stroke="#3e404a" stroke-width="0.5"/>
<rect x="163" y="140" width="38" height="9" fill="#b0b3c2" stroke="#3e404a" stroke-width="0.7"/>
<rect x="0.4" y="0.4" width="303.2" height="162.2" fill="none" stroke="#3a3a3a" stroke-width="0.8"/>
</svg>

<div class="t" id="t111" style="left:1000.20px;top:141.59px;font-size:18.8px;line-height:18.8px;color:#3f3157;transform:scaleX(1.0518);-webkit-text-stroke:0.5px #3f3157;">NCAM</div>
<div class="t" id="t112" style="left:1000.00px;top:162.80px;font-size:7.8px;line-height:7.8px;color:#8c8c8c;transform:scaleX(1.1486);">National Center for</div>
<div class="t" id="t113" style="left:1000.00px;top:172.15px;font-size:7.8px;line-height:7.8px;color:#8c8c8c;transform:scaleX(1.1451);">Advanced Manufacturing</div>
<div class="t" id="t114" style="left:964.00px;top:215.90px;font-size:7.8px;line-height:7.8px;font-weight:bold;color:#4a2a80;transform:scaleX(1.1722);">Department of Mechanical</div>
<div class="t" id="t115" style="left:969.00px;top:225.00px;font-size:7.8px;line-height:7.8px;font-weight:bold;color:#4a2a80;transform:scaleX(1.1517);">&amp; Industrial Engineering</div>
</body></html>
